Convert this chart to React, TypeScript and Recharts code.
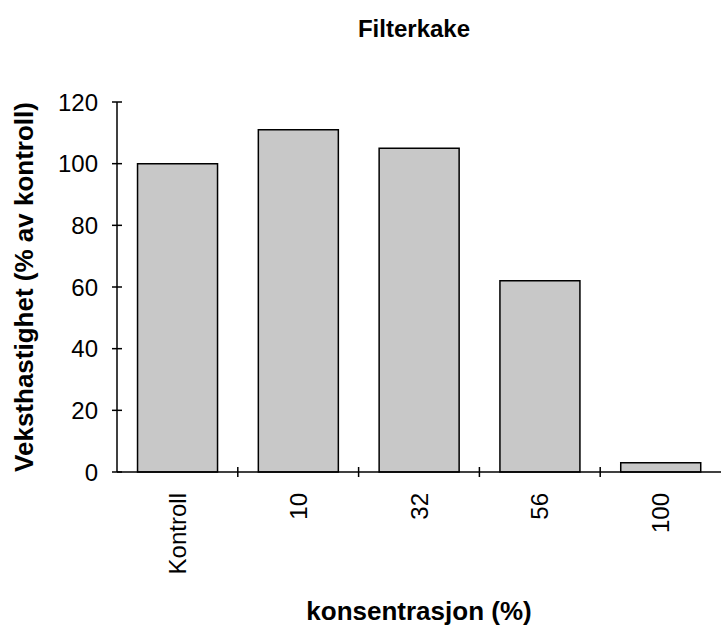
import React from "react";
import { BarChart, Bar, XAxis, YAxis } from "recharts";

const categories = ["Kontroll", "10", "32", "56", "100"];
const growthValues = [100, 111, 105, 62, 3];
const yTicks = [0, 20, 40, 60, 80, 100, 120];

const chartTitle = "Filterkake";
const xTitle = "konsentrasjon (%)";
const yTitle = "Veksthastighet (% av kontroll)";

const data = categories.map((c, i) => ({ name: c, value: growthValues[i] }));

const W = 721;
const H = 625;
const PLOT_L = 117;
const PLOT_R = 721;
const PLOT_T = 102;
const PLOT_B = 472;
const X_AXIS_H = 130;
const FONT = "'Liberation Sans', Arial, Helvetica, sans-serif";
const BAND = (PLOT_R - PLOT_L) / categories.length;

const YTick = (props: any) => {
  const { x, y, payload } = props;
  return (
    <g>
      <line x1={x + 14} x2={x + 24} y1={y} y2={y} stroke="#000" strokeWidth={1.5} />
      <text x={x} y={y} textAnchor="end" dominantBaseline="central" fontFamily={FONT} fontSize={24} fill="#000">
        {payload.value}
      </text>
    </g>
  );
};

const XTick = (props: any) => {
  const { x, y, payload, index } = props;
  const axisY = y - 21;
  return (
    <g>
      {index > 0 && (
        <line x1={x - BAND / 2} x2={x - BAND / 2} y1={axisY - 5} y2={axisY + 5} stroke="#000" strokeWidth={1.5} />
      )}
      <text
        x={x}
        y={y}
        transform={`rotate(-90, ${x}, ${y})`}
        textAnchor="end"
        dominantBaseline="central"
        fontFamily={FONT}
        fontSize={24}
        fill="#000"
      >
        {payload.value}
      </text>
    </g>
  );
};

export default function App() {
  return (
    <div style={{ position: "absolute", left: 0, top: 0, width: W, height: H, background: "#fff" }}>
      <div
        style={{
          position: "absolute",
          left: 0,
          width: 828,
          top: 14,
          textAlign: "center",
          fontFamily: FONT,
          fontWeight: "bold",
          fontSize: 24,
          lineHeight: "30px",
          color: "#000",
        }}
      >
        {chartTitle}
      </div>
      <BarChart
        width={W}
        height={H}
        data={data}
        margin={{ top: PLOT_T, right: W - PLOT_R, bottom: H - PLOT_B - X_AXIS_H, left: 0 }}
        barCategoryGap="17%"
      >
        <XAxis
          dataKey="name"
          height={X_AXIS_H}
          interval={0}
          tickLine={false}
          tickSize={0}
          tickMargin={21}
          axisLine={{ stroke: "#000", strokeWidth: 1.5 }}
          tick={<XTick />}
          label={{
            content: () => (
              <text
                x={(PLOT_L + PLOT_R) / 2}
                y={611}
                textAnchor="middle"
                dominantBaseline="central"
                fontFamily={FONT}
                fontWeight="bold"
                fontSize={26}
                fill="#000"
              >
                {xTitle}
              </text>
            ),
          }}
        />
        <YAxis
          width={PLOT_L}
          domain={[0, 120]}
          ticks={yTicks}
          interval={0}
          tickLine={false}
          tickSize={5}
          tickMargin={14}
          axisLine={{ stroke: "#000", strokeWidth: 1.5 }}
          tick={<YTick />}
          label={{
            content: () => (
              <text
                transform={`translate(24, ${(PLOT_T + PLOT_B) / 2}) rotate(-90)`}
                textAnchor="middle"
                dominantBaseline="central"
                fontFamily={FONT}
                fontWeight="bold"
                fontSize={26}
                fill="#000"
              >
                {yTitle}
              </text>
            ),
          }}
        />
        <Bar dataKey="value" fill="#c8c8c8" stroke="#000" strokeWidth={1.5} isAnimationActive={false} />
      </BarChart>
    </div>
  );
}
